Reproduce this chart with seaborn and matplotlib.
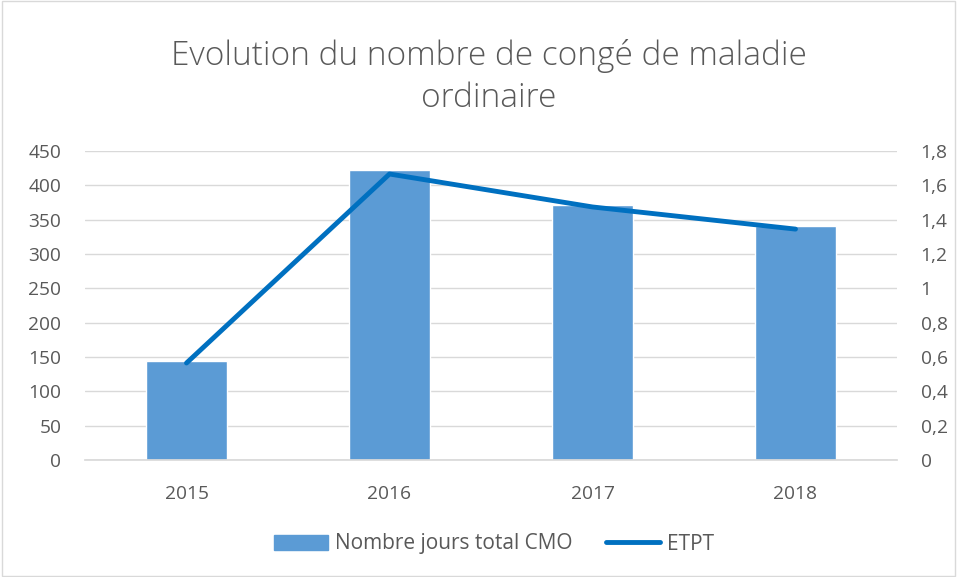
import matplotlib
matplotlib.use("Agg")
import matplotlib.pyplot as plt
import seaborn as sns
import pandas as pd
from matplotlib.patches import Rectangle
from matplotlib.lines import Line2D

years = ["2015", "2016", "2017", "2018"]
cmo_days = [144, 422, 371, 341]
etpt = [0.565, 1.666, 1.474, 1.345]
left_ticks = [0, 50, 100, 150, 200, 250, 300, 350, 400, 450]
right_ticks = [0, 0.2, 0.4, 0.6, 0.8, 1.0, 1.2, 1.4, 1.6, 1.8]
right_labels = ["0", "0,2", "0,4", "0,6", "0,8", "1", "1,2", "1,4", "1,6", "1,8"]
title = "Evolution du nombre de congé de maladie\nordinaire"
bar_label = "Nombre jours total CMO"
line_label = "ETPT"

sns.set_theme(style="white")
plt.rcParams["font.family"] = ["Open Sans", "DejaVu Sans"]

df = pd.DataFrame({"year": years, "cmo": cmo_days, "etpt": etpt})

fig = plt.figure(figsize=(9.57, 5.77), dpi=100)
ax = fig.add_axes([85/957, 1 - 460/577, (897-85)/957, (460-151)/577])

bar_color = "#5B9BD5"
line_color = "#0070C0"
text_color = "#595959"

sns.barplot(data=df, x="year", y="cmo", color=bar_color, width=0.4, ax=ax,
            saturation=1, zorder=2)
ax.set_ylim(0, 450)
ax.set_yticks(left_ticks)
ax.set_xlim(-0.5, 3.5)
ax.set_xlabel("")
ax.set_ylabel("")
ax.grid(axis="y", color="#D9D9D9", linewidth=1, zorder=0)
ax.set_axisbelow(True)
for s in ["top", "right", "left"]:
    ax.spines[s].set_visible(False)
ax.spines["bottom"].set_color("#D9D9D9")
ax.tick_params(axis="y", length=0, labelsize=13.8, colors=text_color, pad=17)
ax.tick_params(axis="x", length=0, labelsize=13.8, colors=text_color, pad=18)

ax2 = ax.twinx()
sns.lineplot(x=list(range(4)), y=etpt, ax=ax2, color=line_color, linewidth=3.5,
             solid_capstyle="round", zorder=3)
ax2.set_ylim(0, 1.8)
ax2.set_yticks(right_ticks)
ax2.set_yticklabels(right_labels)
for s in ["top", "right", "left", "bottom"]:
    ax2.spines[s].set_visible(False)
ax2.tick_params(axis="y", length=0, labelsize=13.8, colors=text_color, pad=17)
ax2.set_ylabel("")
ax2.grid(False)

fig.text(489/957, 1 - 77/577, title, ha="center", va="center", fontsize=24,
         color=text_color, fontweight="light", linespacing=1.3)

handles = [Rectangle((0, 0), 1, 1, color=bar_color),
           Line2D([0], [0], color=line_color, linewidth=3.5, solid_capstyle="round")]
fig.legend(handles, [bar_label, line_label], loc="center", bbox_to_anchor=(494/957, 1 - 544/577),
           ncol=2, frameon=False, fontsize=15, labelcolor=text_color,
           handlelength=2.6, handletextpad=0.35, columnspacing=1.6)

fig.patches.append(Rectangle((0.002, 0.002), 0.996, 0.996, transform=fig.transFigure,
                             fill=False, edgecolor="#D9D9D9", linewidth=1))

fig.savefig("out.png", dpi=100)
